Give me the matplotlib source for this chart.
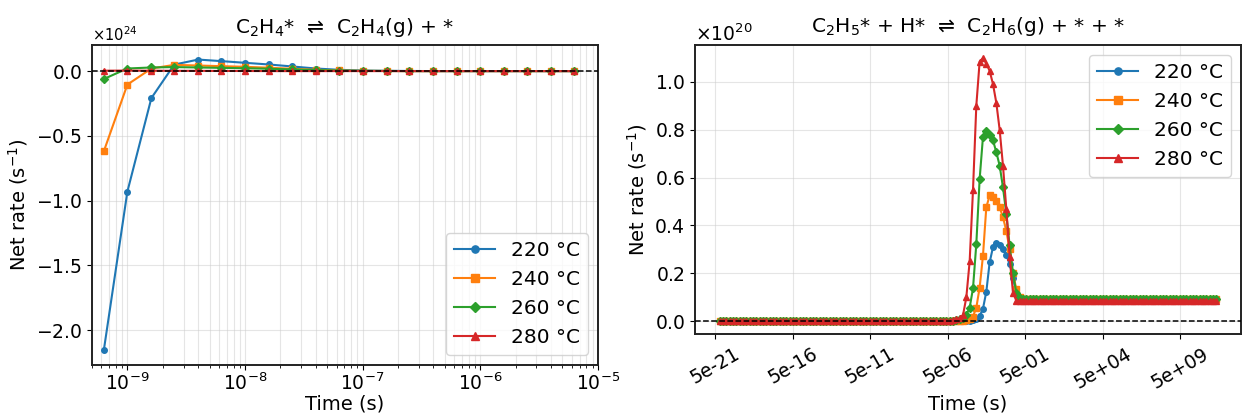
import numpy as np
import matplotlib
matplotlib.use("Agg")
import matplotlib.pyplot as plt
from matplotlib.ticker import NullLocator, FixedLocator, FixedFormatter

# --- data -------------------------------------------------------------
temps = ["220 °C", "240 °C", "260 °C", "280 °C"]
colors = ["#1f77b4", "#ff7f0e", "#2ca02c", "#d62728"]
markers = ["o", "s", "D", "^"]

# left panel: C2H4* <-> C2H4(g) + *, 21 times, 0.2 decade apart
left_t = [6.3e-10, 1.0e-9, 1.6e-9, 2.5e-9, 4.0e-9, 6.3e-9, 1.0e-8, 1.6e-8,
          2.5e-8, 4.0e-8, 6.3e-8, 1.0e-7, 1.6e-7, 2.5e-7, 4.0e-7, 6.3e-7,
          1.0e-6, 1.6e-6, 2.5e-6, 4.0e-6, 6.3e-6]
left_ticks = [1e-9, 1e-8, 1e-7, 1e-6, 1e-5]
# net rate in units of 1e24 s^-1
left_220 = [-2.157, -0.93, -0.208, 0.05, 0.089, 0.077, 0.064, 0.051, 0.036,
            0.02, 0.01, 0.004, 0.002, 0.001, 0, 0, 0, 0, 0, 0, 0]
left_240 = [-0.62, -0.104, 0.02, 0.048, 0.043, 0.038, 0.033, 0.026, 0.018,
            0.01, 0.005, 0.002, 0.001, 0, 0, 0, 0, 0, 0, 0, 0]
left_260 = [-0.061, 0.02, 0.028, 0.031, 0.028, 0.025, 0.022, 0.018, 0.013,
            0.008, 0.004, 0.002, 0.001, 0, 0, 0, 0, 0, 0, 0, 0]
left_280 = [0.003, 0.004, 0.003, 0.002, 0.002, 0.001, 0.001, 0, 0, 0, 0,
            0, 0, 0, 0, 0, 0, 0, 0, 0, 0]

# right panel: C2H5* + H* <-> C2H6(g) + * + *, 150 log-spaced times 1e-20..1e12
right_t = np.logspace(-20, 12, 150)
n_before = 68   # points sitting on zero before the burst
# net rate (units of 1e20 s^-1) for points 68..93
burst_220 = [0, 0, 0, 0, 0, 0.001, 0.002, 0.003, 0.005, 0.01, 0.022, 0.053,
             0.123, 0.246, 0.309, 0.327, 0.318, 0.30, 0.275, 0.24, 0.18,
             0.12, 0.095, 0.092, 0.091, 0.091]
burst_240 = [0, 0, 0, 0.001, 0.002, 0.003, 0.006, 0.01, 0.02, 0.057, 0.141,
             0.274, 0.476, 0.525, 0.518, 0.504, 0.476, 0.434, 0.378, 0.30,
             0.20, 0.135, 0.10, 0.094, 0.093, 0.093]
burst_260 = [0, 0.001, 0.002, 0.004, 0.008, 0.015, 0.027, 0.057, 0.137,
             0.323, 0.594, 0.77, 0.793, 0.776, 0.755, 0.706, 0.65, 0.559,
             0.449, 0.317, 0.20, 0.12, 0.097, 0.095, 0.095, 0.095]
burst_280 = [0.002, 0.003, 0.005, 0.008, 0.013, 0.025, 0.10, 0.25, 0.546,
             0.90, 1.084, 1.098, 1.075, 1.045, 0.99, 0.912, 0.80, 0.65,
             0.47, 0.27, 0.12, 0.086, 0.084, 0.084, 0.084, 0.084]
plateau = [0.091, 0.093, 0.095, 0.084]   # long-time steady value per series

right_ticks = [5e-21, 5e-16, 5e-11, 5e-06, 5e-01, 5e+04, 5e+09]
right_ticklabels = ["5e-21", "5e-16", "5e-11", "5e-06", "5e-01", "5e+04", "5e+09"]

left_series = [left_220, left_240, left_260, left_280]
bursts = [burst_220, burst_240, burst_260, burst_280]

# --- figure ------------------------------------------------------------
fig = plt.figure(figsize=(12.43, 4.15), dpi=100)
axL = fig.add_axes([0.074, 0.1205, 0.407, 0.771])
axR = fig.add_axes([0.5591, 0.194, 0.4393, 0.6976])

for y, c, m, lab in zip(left_series, colors, markers, temps):
    axL.plot(left_t, np.array(y) * 1e24, color=c, marker=m, ms=4, lw=1.5,
             label=lab)
axL.axhline(0, color="k", ls="--", lw=1.1, zorder=5)
axL.set_xscale("log")
axL.set_xticks(left_ticks)
axL.set_xlim(5e-10, 1e-5)
axL.grid(True, which="both", color="#cccccc", alpha=0.5, lw=0.8)
axL.set_title("C$_2$H$_4$*  ⇌  C$_2$H$_4$(g) + *", fontsize=14.5, pad=9)
axL.legend(loc="lower right", fontsize=14.5, markerscale=1.3)

for b, p, c, m, lab in zip(bursts, plateau, colors, markers, temps):
    n_after = len(right_t) - n_before - len(b)
    y = np.array([0.0] * n_before + b + [p] * n_after)
    axR.plot(right_t, y * 1e20, color=c, marker=m, ms=4, lw=1.5, label=lab)
axR.axhline(0, color="k", ls="--", lw=1.1, zorder=5)
axR.set_xscale("log")
axR.xaxis.set_major_locator(FixedLocator(right_ticks))
axR.xaxis.set_major_formatter(FixedFormatter(right_ticklabels))
axR.xaxis.set_minor_locator(NullLocator())
axR.grid(True, which="major", color="#cccccc", alpha=0.5, lw=0.8)
axR.set_title("C$_2$H$_5$* + H*  ⇌  C$_2$H$_6$(g) + * + *", fontsize=14.5, pad=9)
axR.legend(loc="upper right", fontsize=14.5, markerscale=1.3)

for ax, offs, lpad in [(axL, 10.5, 0), (axR, 13.5, 2)]:
    ax.ticklabel_format(axis="y", style="sci", scilimits=(0, 0), useMathText=True)
    ax.yaxis.get_offset_text().set_fontsize(offs)
    ax.tick_params(labelsize=13.5)
    ax.set_xlabel("Time (s)", fontsize=14, labelpad=lpad)
    ax.set_ylabel("Net rate (s$^{-1}$)", fontsize=14)
    for s in ax.spines.values():
        s.set_linewidth(1.4)
        s.set_color("#222222")

axL.tick_params(axis="x", pad=2)
plt.setp(axR.get_xticklabels(), rotation=30, ha="center")

fig.savefig("out.png", dpi=100)
